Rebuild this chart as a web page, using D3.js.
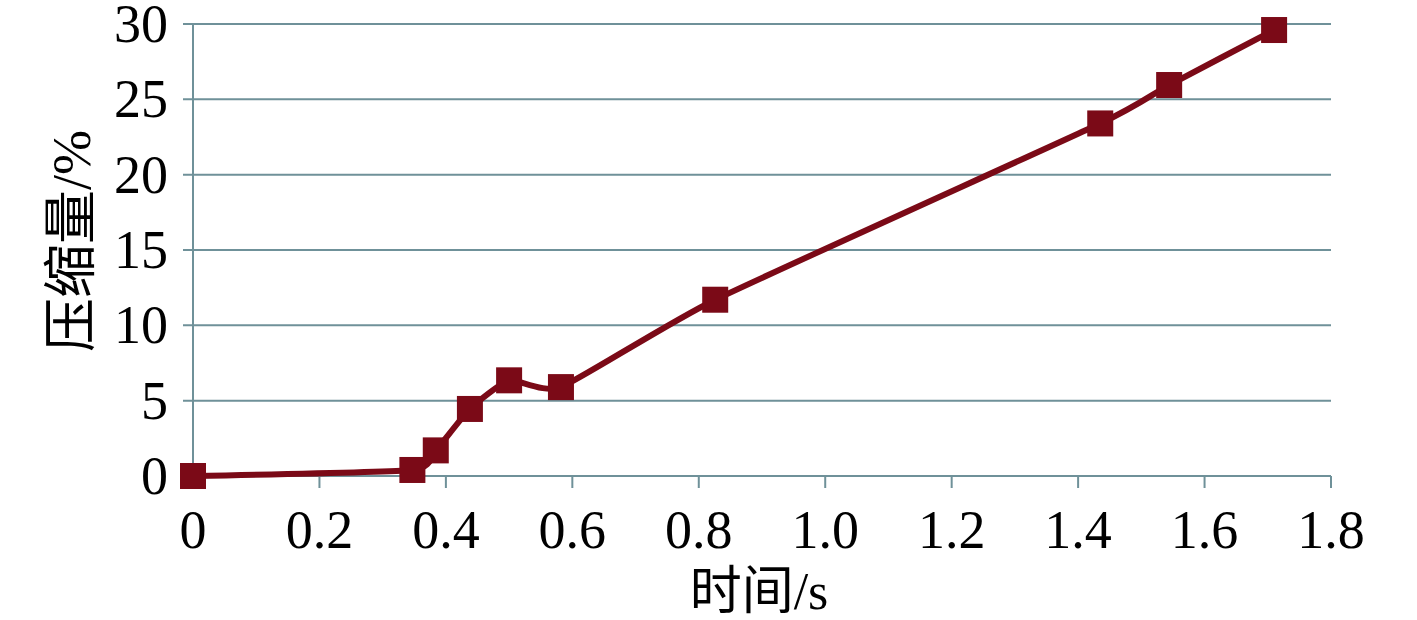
<!DOCTYPE html>
<html>
<head>
<meta charset="utf-8">
<script src="https://cdn.jsdelivr.net/npm/d3@7"></script>
<style>
  body { margin: 0; background: #fff; }
  text { font-family: "Liberation Serif", serif; fill: #000; }
  .cjk { font-family: "Noto Sans CJK SC", sans-serif; }
</style>
</head>
<body>
<script>
// data
var timeS = [0, 0.347, 0.384, 0.438, 0.500, 0.582, 0.826, 1.435, 1.544, 1.710];
var compressPct = [0, 0.4, 1.7, 4.45, 6.35, 5.9, 11.7, 23.4, 25.95, 29.6];
var xTicks = [0, 0.2, 0.4, 0.6, 0.8, 1.0, 1.2, 1.4, 1.6, 1.8];
var yTicks = [0, 5, 10, 15, 20, 25, 30];
var xTitle = ["时间", "/s"];
var yTitle = ["压缩量", "/%"];

var W = 1417, H = 620;
var margin = {left: 193, right: 86, top: 24, bottom: 144};
var gridColor = "#6f9199";
var lineColor = "#7b0a17";

var svg = d3.select("body").append("svg")
    .attr("width", W)
    .attr("height", H);

var x = d3.scaleLinear()
    .domain([0, 1.8])
    .range([margin.left, W - margin.right]);

var y = d3.scaleLinear()
    .domain([0, 30])
    .range([H - margin.bottom, margin.top]);

// horizontal grid lines (with the little tick stub on the left)
svg.append("g")
    .selectAll("line")
    .data(yTicks)
    .enter().append("line")
    .attr("x1", x(0) - 10)
    .attr("x2", x(1.8))
    .attr("y1", function(d) { return y(d); })
    .attr("y2", function(d) { return y(d); })
    .attr("stroke", gridColor)
    .attr("stroke-width", 2);

// y axis line
svg.append("line")
    .attr("x1", x(0)).attr("x2", x(0))
    .attr("y1", y(30)).attr("y2", y(0))
    .attr("stroke", gridColor)
    .attr("stroke-width", 2);

// x axis ticks
svg.append("g")
    .selectAll("line")
    .data(xTicks)
    .enter().append("line")
    .attr("x1", function(d) { return x(d); })
    .attr("x2", function(d) { return x(d); })
    .attr("y1", y(0))
    .attr("y2", y(0) + 12)
    .attr("stroke", gridColor)
    .attr("stroke-width", 2);

// y tick labels
svg.append("g")
    .selectAll("text")
    .data(yTicks)
    .enter().append("text")
    .attr("x", 168)
    .attr("y", function(d) { return y(d) + 18; })
    .attr("text-anchor", "end")
    .attr("font-size", "54px")
    .text(function(d) { return d; });

// x tick labels
svg.append("g")
    .selectAll("text")
    .data(xTicks)
    .enter().append("text")
    .attr("x", function(d) { return x(d); })
    .attr("y", 548)
    .attr("text-anchor", "middle")
    .attr("font-size", "54px")
    .text(function(d) { return d === 0 ? "0" : d3.format(".1f")(d); });

// axis titles
var xt = svg.append("text")
    .attr("x", 759)
    .attr("y", 609)
    .attr("text-anchor", "middle")
    .attr("font-size", "52px");
xt.append("tspan").attr("class", "cjk").text(xTitle[0]);
xt.append("tspan").text(xTitle[1]);

var yt = svg.append("text")
    .attr("transform", "translate(90,241) rotate(-90)")
    .attr("text-anchor", "middle")
    .attr("font-size", "54px");
yt.append("tspan").attr("class", "cjk").text(yTitle[0]);
yt.append("tspan").text(yTitle[1]);

// series (smoothed line like the original)
var pts = timeS.map(function(t, i) { return [t, compressPct[i]]; });

var line = d3.line()
    .x(function(d) { return x(d[0]); })
    .y(function(d) { return y(d[1]); })
    .curve(d3.curveCardinal.tension(0.5));

svg.append("path")
    .datum(pts)
    .attr("d", line)
    .attr("fill", "none")
    .attr("stroke", lineColor)
    .attr("stroke-width", 6);

var sz = 26;
svg.append("g")
    .selectAll("rect")
    .data(pts)
    .enter().append("rect")
    .attr("x", function(d) { return x(d[0]) - sz / 2; })
    .attr("y", function(d) { return y(d[1]) - sz / 2; })
    .attr("width", sz)
    .attr("height", sz)
    .attr("fill", lineColor);
</script>
</body>
</html>
